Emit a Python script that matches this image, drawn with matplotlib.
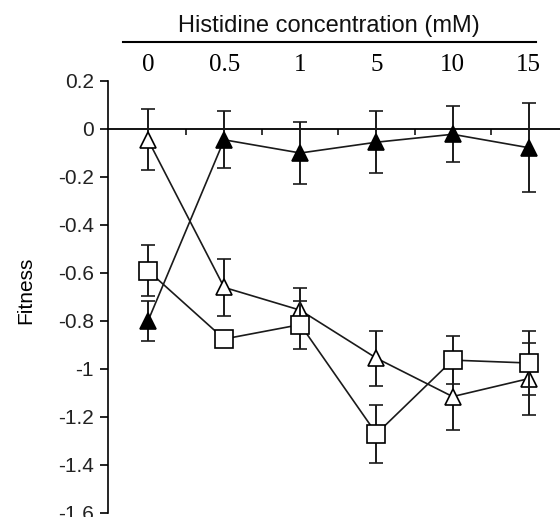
import numpy as np
import matplotlib
matplotlib.use("Agg")
import matplotlib.pyplot as plt
import matplotlib.transforms as mtransforms

conc_labels = ["0", "0.5", "1", "5", "10", "15"]

filled_tri = [-0.80, -0.045, -0.10, -0.055, -0.022, -0.078]
filled_tri_err = [0.085, 0.118, 0.128, 0.128, 0.116, 0.185]

open_tri = [-0.045, -0.66, -0.755, -0.955, -1.115, -1.04]
open_tri_err = [0.127, 0.12, 0.092, 0.115, 0.14, 0.15]

square = [-0.59, -0.875, -0.815, -1.27, -0.963, -0.975]
square_err = [0.105, 0.02, 0.1, 0.12, 0.1, 0.135]

yticks = [0.2, 0, -0.2, -0.4, -0.6, -0.8, -1, -1.2, -1.4, -1.6]
ytick_labels = ["0.2", "0", "-0.2", "-0.4", "-0.6", "-0.8", "-1", "-1.2", "-1.4", "-1.6"]

plt.rcParams["font.family"] = ["Liberation Sans", "DejaVu Sans"]

fig = plt.figure(figsize=(5.6, 5.17), dpi=100)
ax = fig.add_axes([108 / 560, 4 / 517, 1 - 108 / 560, 432 / 517])

x = np.arange(len(conc_labels))
ebkw = dict(ecolor="#1a1a1a", elinewidth=1.4, capsize=5, capthick=1.4,
            color="#1a1a1a", linewidth=1.2,
            markeredgecolor="black", markeredgewidth=1.2)

ax.errorbar(x, filled_tri, yerr=filled_tri_err, marker="^", markersize=12,
            markerfacecolor="black", zorder=3, **ebkw)
ax.errorbar(x, open_tri, yerr=open_tri_err, marker="^", markersize=12,
            markerfacecolor="white", zorder=4, **ebkw)
ax.errorbar(x, square, yerr=square_err, marker="s", markersize=12.5,
            markerfacecolor="white", zorder=5, **ebkw)

ax.set_xlim(-0.525, 5.41)
ax.set_ylim(-1.6, 0.2)

# y axis
for s in ["top", "right"]:
    ax.spines[s].set_visible(False)
ax.spines["left"].set_linewidth(1.2)
ax.spines["bottom"].set_position(("data", 0))
ax.spines["bottom"].set_linewidth(1.3)
ax.set_yticks(yticks)
ax.set_yticklabels(ytick_labels, fontsize=15)
ax.tick_params(axis="y", direction="out", length=6, width=1.2, pad=4,
               colors="black", labelcolor="#222222")

# x axis: labels on top, minor ticks on the zero line
ax.set_xticks(x)
ax.set_xticks(x[:-1] + 0.5, minor=True)
ax.tick_params(axis="x", which="major", bottom=False, top=False,
               labelbottom=False, labeltop=True, pad=0)
ax.tick_params(axis="x", which="minor", bottom=True, top=False,
               direction="out", length=4, width=1.1)
ax.set_xticklabels(conc_labels, fontsize=18, family="Liberation Serif")

ax.set_ylabel("Fitness", fontsize=15)
ax.yaxis.set_label_coords(-0.162, 0.516)

# header line and title above the tick labels
trans = mtransforms.blended_transform_factory(ax.transData, ax.transAxes)
ax.plot([-0.33, 5.1], [1.09, 1.09], color="black", lw=1.5,
        transform=trans, clip_on=False)
ax.text(2.38, 1.127, "Histidine concentration (mM)", transform=trans,
        ha="center", va="center", fontsize=17, color="#111111")

fig.savefig("out.png", dpi=100)
